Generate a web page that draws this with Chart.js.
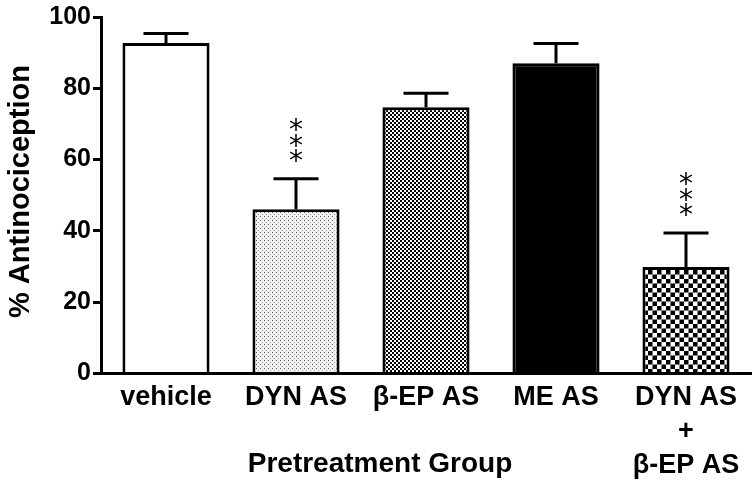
<!DOCTYPE html>
<html><head><meta charset="utf-8">
<script src="https://cdn.jsdelivr.net/npm/chart.js@4/dist/chart.umd.min.js"></script>
<style>html,body{margin:0;padding:0;background:#fff}</style>
</head><body>
<canvas id="c" width="756" height="482"></canvas>
<script>
const categories = [['vehicle'], ['DYN AS'], ['β-EP AS'], ['ME AS'], ['DYN AS', '+', 'β-EP AS']];
const means = [92.7, 46.1, 74.7, 87.0, 29.9];
const errUpper = [95.4, 54.6, 78.6, 92.6, 39.4];
const stars = ['', '***', '', '', '***'];
const yTicks = [0, 20, 40, 60, 80, 100];
const yTitle = '% Antinociception';
const xTitle = 'Pretreatment Group';

const FONT = "'Liberation Sans', Arial, sans-serif";

function makePattern(size, draw) {
  const c = document.createElement('canvas');
  c.width = size; c.height = size;
  const g = c.getContext('2d');
  draw(g);
  return document.getElementById('c').getContext('2d').createPattern(c, 'repeat');
}
const dotPattern = makePattern(4, g => {
  g.fillStyle = '#f2f2f2'; g.fillRect(0, 0, 4, 4);
  g.fillStyle = '#555'; g.fillRect(0, 0, 1, 1);
  g.fillStyle = '#999'; g.fillRect(2, 2, 1, 1);
});
const fineChecker = makePattern(4, g => {
  g.fillStyle = '#fff'; g.fillRect(0, 0, 4, 4);
  g.fillStyle = '#000'; g.fillRect(0, 0, 2, 2); g.fillRect(2, 2, 2, 2);
});
const coarseChecker = makePattern(9, g => {
  g.fillStyle = '#fff'; g.fillRect(0, 0, 9, 9);
  g.fillStyle = '#000'; g.fillRect(0, 0, 4.5, 4.5); g.fillRect(4.5, 4.5, 4.5, 4.5);
});
const fills = ['#ffffff', dotPattern, fineChecker, '#000000', coarseChecker];

const extras = {
  id: 'extras',
  afterDatasetsDraw(chart) {
    const ctx = chart.ctx;
    const ys = chart.scales.y;
    const meta = chart.getDatasetMeta(0);
    ctx.save();
    ctx.strokeStyle = '#000';
    ctx.fillStyle = '#000';
    ctx.lineWidth = 3;
    ctx.lineCap = 'butt';
    meta.data.forEach((el, i) => {
      const x = el.x;
      const yTop = el.y;
      const yCap = ys.getPixelForValue(errUpper[i]);
      ctx.beginPath();
      ctx.moveTo(x, yTop); ctx.lineTo(x, yCap);
      ctx.moveTo(x - 22.5, yCap); ctx.lineTo(x + 22.5, yCap);
      ctx.stroke();
      if (stars[i]) {
        ctx.font = "28px 'DejaVu Sans'";
        ctx.textAlign = 'center';
        ctx.textBaseline = 'middle';
        for (let k = 0; k < stars[i].length; k++) {
          ctx.fillText(stars[i][k], x, yCap - 16 - k * 15.5);
        }
      }
    });
    ctx.restore();
  },
  afterDraw(chart) {
    const ctx = chart.ctx;
    ctx.save();
    ctx.fillStyle = '#000';
    ctx.textAlign = 'center';
    ctx.textBaseline = 'middle';
    ctx.font = 'bold 28px ' + FONT;
    ctx.fillText(xTitle, 380, 464);
    ctx.translate(21, 191.5);
    ctx.rotate(-Math.PI / 2);
    ctx.font = 'bold 29px ' + FONT;
    ctx.fillText(yTitle, 0, 0);
    ctx.restore();
  }
};

new Chart(document.getElementById('c'), {
  type: 'bar',
  data: {
    labels: categories,
    datasets: [{
      data: means,
      backgroundColor: fills,
      borderColor: '#000',
      borderWidth: 3,
      borderSkipped: 'start',
      categoryPercentage: 1.0,
      barPercentage: 0.67
    }]
  },
  options: {
    responsive: false,
    devicePixelRatio: 1,
    animation: false,
    layout: { padding: { top: 16, right: 5, left: 0, bottom: 0 } },
    plugins: { legend: { display: false }, tooltip: { enabled: false } },
    scales: {
      x: {
        grid: { display: false, drawTicks: false },
        border: { display: true, color: '#000', width: 3 },
        ticks: {
          color: '#000',
          padding: 7,
          maxRotation: 0,
          autoSkip: false,
          font: { family: FONT, size: 27, weight: 'bold', lineHeight: '34px' }
        },
        afterFit(s) { s.height = 108.5; }
      },
      y: {
        min: 0, max: 100,
        afterBuildTicks(s) { s.ticks = yTicks.map(v => ({ value: v })); },
        grid: { display: true, drawOnChartArea: false, drawTicks: true, tickLength: 8, lineWidth: 3, color: '#000' },
        border: { display: true, color: '#000', width: 3 },
        ticks: {
          color: '#000',
          padding: 2,
          font: { family: FONT, size: 25, weight: 'bold' }
        },
        afterFit(s) { s.width = 101; }
      }
    }
  },
  plugins: [extras]
});
</script>
</body></html>
